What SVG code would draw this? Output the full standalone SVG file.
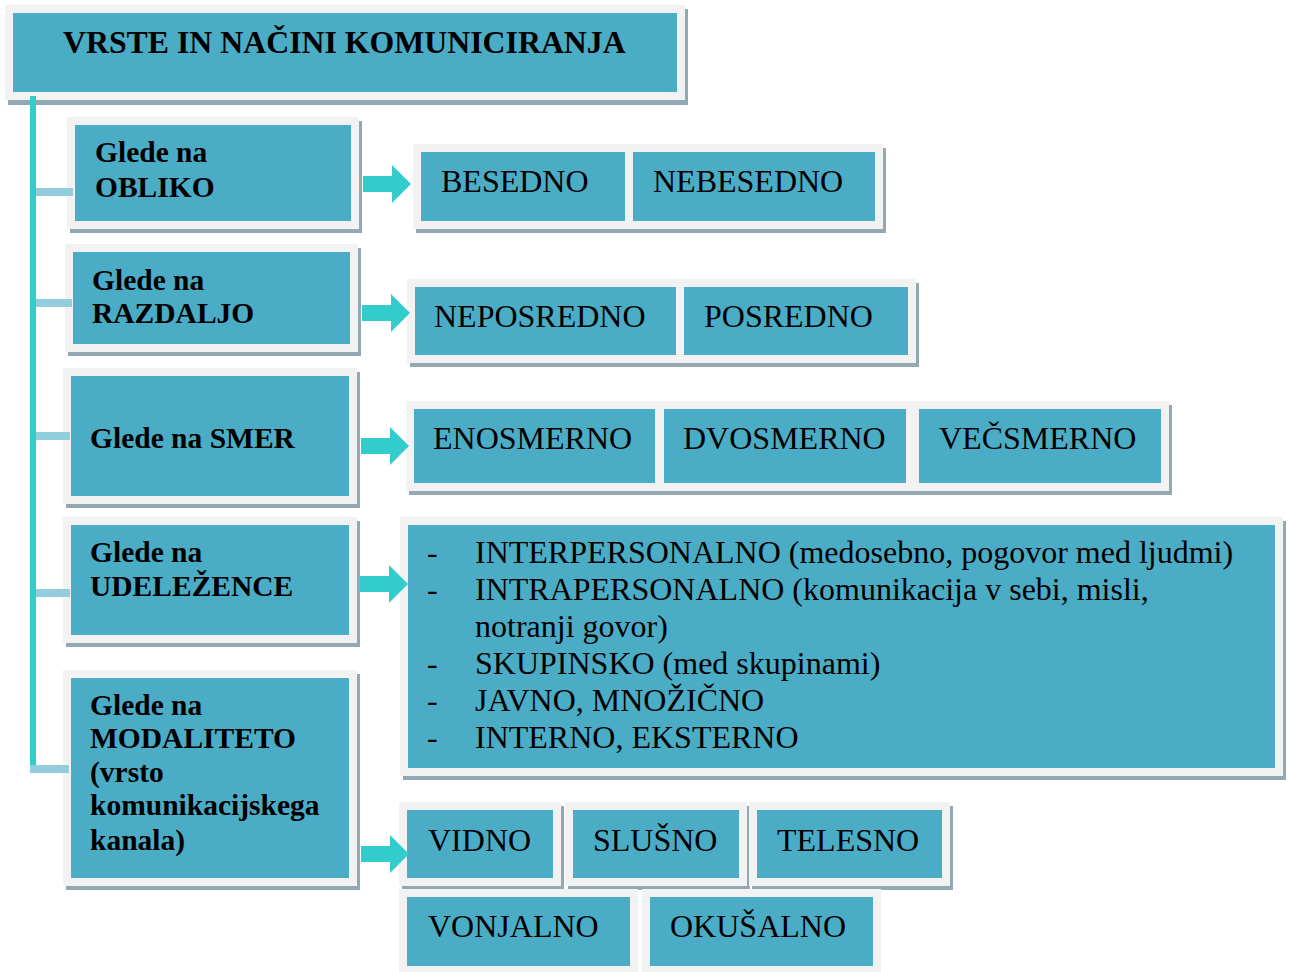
<svg xmlns="http://www.w3.org/2000/svg" width="1290" height="972" viewBox="0 0 1290 972">
<style>
.sh{fill:#92a9b4}
.fr{fill:#f2f2f2}
.in{fill:#4bacc6}
.t{font-family:"Liberation Serif","Times New Roman",serif;fill:#000}
.b{font-weight:bold;font-size:29.5px}
.r{font-size:32px}
.ttl{font-weight:bold;font-size:31.8px}
.ar{fill:#33cccc}
.stub{fill:#92cddc}
</style>
<rect width="1290" height="972" fill="#ffffff"/>
<g id="shadows">
<rect class="sh" x="8" y="9" width="680" height="96"/>
<rect class="sh" x="70" y="121" width="292" height="112"/>
<rect class="sh" x="68" y="248" width="293" height="108"/>
<rect class="sh" x="66" y="372" width="294" height="136"/>
<rect class="sh" x="66" y="521" width="294" height="126"/>
<rect class="sh" x="66" y="674" width="294" height="216"/>
<rect class="sh" x="416" y="148" width="220" height="85"/>
<rect class="sh" x="628" y="148" width="258" height="85"/>
<rect class="sh" x="410" y="283" width="277" height="84"/>
<rect class="sh" x="679" y="283" width="240" height="84"/>
<rect class="sh" x="409" y="405" width="257" height="90"/>
<rect class="sh" x="659" y="405" width="258" height="90"/>
<rect class="sh" x="914" y="405" width="258" height="90"/>
<rect class="sh" x="403" y="521" width="883" height="259"/>
<rect class="sh" x="402" y="806" width="162" height="84"/>
<rect class="sh" x="568" y="806" width="182" height="84"/>
<rect class="sh" x="752" y="806" width="201" height="84"/>
</g>
<g id="title">
<rect class="fr" x="5" y="5" width="680" height="95"/>
<rect class="in" x="13" y="13" width="664" height="79"/>
<text class="t ttl" x="63" y="53">VRSTE IN NAČINI KOMUNICIRANJA</text>
</g>
<g id="n-obliko">
<rect class="fr" x="67" y="117" width="292" height="112"/>
<rect class="in" x="75" y="125" width="276" height="96"/>
<text class="t b" x="95" y="162">Glede na</text>
<text class="t b" x="95" y="197">OBLIKO</text>
</g>
<g id="n-razdaljo">
<rect class="fr" x="65" y="244" width="293" height="108"/>
<rect class="in" x="73" y="252" width="277" height="92"/>
<text class="t b" x="92" y="290">Glede na</text>
<text class="t b" x="92" y="323">RAZDALJO</text>
</g>
<g id="n-smer">
<rect class="fr" x="63" y="368" width="294" height="136"/>
<rect class="in" x="71" y="376" width="278" height="120"/>
<text class="t b" x="90" y="448">Glede na SMER</text>
</g>
<g id="n-udelezence">
<rect class="fr" x="63" y="517" width="294" height="126"/>
<rect class="in" x="71" y="525" width="278" height="110"/>
<text class="t b" x="90" y="562">Glede na</text>
<text class="t b" x="90" y="596">UDELEŽENCE</text>
</g>
<g id="n-modaliteto">
<rect class="fr" x="63" y="670" width="294" height="216"/>
<rect class="in" x="71" y="678" width="278" height="200"/>
<text class="t b" x="90" y="715">Glede na</text>
<text class="t b" x="90" y="748">MODALITETO</text>
<text class="t b" x="90" y="782">(vrsto</text>
<text class="t b" x="90" y="815">komunikacijskega</text>
<text class="t b" x="90" y="850">kanala)</text>
</g>
<g id="n-besedno">
<rect class="fr" x="413" y="144" width="220" height="85"/>
<rect class="in" x="421" y="152" width="204" height="69"/>
<text class="t r" x="441" y="192">BESEDNO</text>
</g>
<g id="n-nebesedno">
<rect class="fr" x="625" y="144" width="258" height="85"/>
<rect class="in" x="633" y="152" width="242" height="69"/>
<text class="t r" x="653" y="192">NEBESEDNO</text>
</g>
<g id="n-neposredno">
<rect class="fr" x="407" y="279" width="277" height="84"/>
<rect class="in" x="415" y="287" width="261" height="68"/>
<text class="t r" x="434" y="327">NEPOSREDNO</text>
</g>
<g id="n-posredno">
<rect class="fr" x="676" y="279" width="240" height="84"/>
<rect class="in" x="684" y="287" width="224" height="68"/>
<text class="t r" x="704" y="327">POSREDNO</text>
</g>
<g id="n-enosmerno">
<rect class="fr" x="406" y="401" width="257" height="90"/>
<rect class="in" x="414" y="409" width="241" height="74"/>
<text class="t r" x="433" y="449">ENOSMERNO</text>
</g>
<g id="n-dvosmerno">
<rect class="fr" x="656" y="401" width="258" height="90"/>
<rect class="in" x="664" y="409" width="242" height="74"/>
<text class="t r" x="683" y="449">DVOSMERNO</text>
</g>
<g id="n-vecsmerno">
<rect class="fr" x="911" y="401" width="258" height="90"/>
<rect class="in" x="919" y="409" width="242" height="74"/>
<text class="t r" x="939" y="449">VEČSMERNO</text>
</g>
<g id="n-udelezenci-list">
<rect class="fr" x="400" y="517" width="883" height="259"/>
<rect class="in" x="408" y="525" width="867" height="243"/>
<text class="t r" x="427" y="563">-</text>
<text class="t r" x="475" y="563">INTERPERSONALNO (medosebno, pogovor med ljudmi)</text>
<text class="t r" x="427" y="600">-</text>
<text class="t r" x="475" y="600">INTRAPERSONALNO (komunikacija v sebi, misli,</text>
<text class="t r" x="475" y="637">notranji govor)</text>
<text class="t r" x="427" y="674">-</text>
<text class="t r" x="475" y="674">SKUPINSKO (med skupinami)</text>
<text class="t r" x="427" y="711">-</text>
<text class="t r" x="475" y="711">JAVNO, MNOŽIČNO</text>
<text class="t r" x="427" y="748">-</text>
<text class="t r" x="475" y="748">INTERNO, EKSTERNO</text>
</g>
<g id="n-vidno">
<rect class="fr" x="399" y="802" width="162" height="84"/>
<rect class="in" x="407" y="810" width="146" height="68"/>
<text class="t r" x="428" y="851">VIDNO</text>
</g>
<g id="n-slusno">
<rect class="fr" x="565" y="802" width="182" height="84"/>
<rect class="in" x="573" y="810" width="166" height="68"/>
<text class="t r" x="593" y="851">SLUŠNO</text>
</g>
<g id="n-telesno">
<rect class="fr" x="749" y="802" width="201" height="84"/>
<rect class="in" x="757" y="810" width="185" height="68"/>
<text class="t r" x="777" y="851">TELESNO</text>
</g>
<g id="n-vonjalno">
<rect class="fr" x="399" y="889" width="239" height="85"/>
<rect class="in" x="407" y="897" width="223" height="69"/>
<text class="t r" x="428" y="937">VONJALNO</text>
</g>
<g id="n-okusalno">
<rect class="fr" x="642" y="889" width="239" height="85"/>
<rect class="in" x="650" y="897" width="223" height="69"/>
<text class="t r" x="670" y="937">OKUŠALNO</text>
</g>
<g id="connectors">
<rect class="ar" x="30" y="96" width="6" height="673"/>
<rect class="stub" x="36" y="188" width="37" height="8"/>
<rect class="stub" x="36" y="299" width="36" height="8"/>
<rect class="stub" x="36" y="432" width="34" height="8"/>
<rect class="stub" x="36" y="589" width="34" height="8"/>
<rect class="stub" x="30" y="765" width="39" height="8"/>
<polygon class="ar" points="363,176 392,176 392,165 411,184 392,203 392,192 363,192"/>
<polygon class="ar" points="362,305 391,305 391,294 410,313 391,332 391,321 362,321"/>
<polygon class="ar" points="361,438 390,438 390,427 409,446 390,465 390,454 361,454"/>
<polygon class="ar" points="360,576 389,576 389,565 408,584 389,603 389,592 360,592"/>
<polygon class="ar" points="361,846 390,846 390,835 409,854 390,873 390,862 361,862"/>
</g>
</svg>
